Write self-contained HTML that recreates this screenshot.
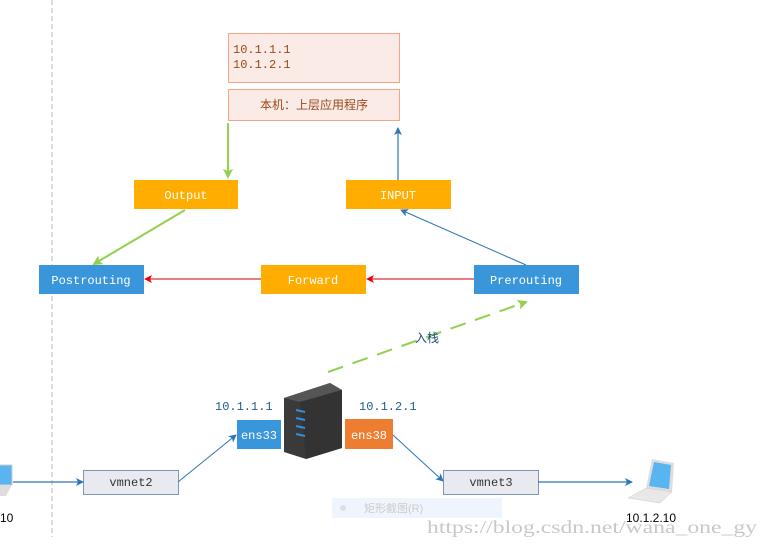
<!DOCTYPE html>
<html><head><meta charset="utf-8"><style>
html,body{margin:0;padding:0;background:#fff;width:768px;height:547px;overflow:hidden}
svg{display:block}
text{font-family:"Liberation Mono","Noto Sans CJK SC",monospace;font-size:12px}
</style></head><body>
<svg width="768" height="547" viewBox="0 0 768 547" xmlns="http://www.w3.org/2000/svg">
<defs>
<marker id="ab" markerWidth="8" markerHeight="8" refX="7" refY="4" orient="auto" markerUnits="userSpaceOnUse"><path d="M0,0 L8,4 L0,8 L2,4z" fill="#2e75b6"/></marker>
<marker id="ar" markerWidth="8" markerHeight="8" refX="7" refY="4" orient="auto" markerUnits="userSpaceOnUse"><path d="M0,0 L8,4 L0,8 L2,4z" fill="#e00"/></marker>
<marker id="ag" markerWidth="10" markerHeight="10" refX="8" refY="5" orient="auto" markerUnits="userSpaceOnUse"><path d="M0,0 L10,5 L0,10 L2,5z" fill="#92d050"/></marker>
</defs>
<line x1="52" y1="0" x2="52" y2="537" stroke="#bbb" stroke-dasharray="5,3"/>
<rect x="228.5" y="33.5" width="171" height="49" fill="#fbebe6" stroke="#f4a58a"/>
<text x="233" y="53" fill="#9c4a1a">10.1.1.1</text>
<text x="233" y="68" fill="#9c4a1a">10.1.2.1</text>
<rect x="228.5" y="89.5" width="171" height="31" fill="#fbebe6" stroke="#f4a58a"/>
<text x="314" y="109" fill="#9c4a1a" text-anchor="middle">本机：上层应用程序</text>
<line x1="228" y1="123" x2="228" y2="177" stroke="#92d050" stroke-width="2" marker-end="url(#ag)"/>
<line x1="398" y1="180" x2="398" y2="128" stroke="#2e75b6" stroke-width="1.2" marker-end="url(#ab)"/>
<rect x="134" y="180" width="104" height="29" fill="#ffad00"/>
<text x="186" y="199" fill="#fff" text-anchor="middle">Output</text>
<rect x="346" y="180" width="105" height="29" fill="#ffad00"/>
<text x="398" y="199" fill="#fff" text-anchor="middle">INPUT</text>
<line x1="185" y1="210" x2="94" y2="264" stroke="#92d050" stroke-width="2" marker-end="url(#ag)"/>
<line x1="526" y1="265" x2="401" y2="210" stroke="#2e75b6" stroke-width="1" marker-end="url(#ab)"/>
<rect x="39" y="265" width="105" height="29" fill="#3a96db"/>
<text x="91" y="284" fill="#fff" text-anchor="middle">Postrouting</text>
<rect x="261" y="265" width="105" height="29" fill="#ffad00"/>
<text x="313" y="284" fill="#fff" text-anchor="middle">Forward</text>
<rect x="474" y="265" width="105" height="29" fill="#3a96db"/>
<text x="526" y="284" fill="#fff" text-anchor="middle">Prerouting</text>
<line x1="474" y1="279" x2="367" y2="279" stroke="#c00" stroke-width="1" marker-end="url(#ar)"/>
<line x1="261" y1="279" x2="145" y2="279" stroke="#c00" stroke-width="1" marker-end="url(#ar)"/>
<line x1="328" y1="372" x2="526" y2="302" stroke="#92d050" stroke-width="2" stroke-dasharray="16,10" marker-end="url(#ag)"/>
<text x="427" y="342" fill="#1f4e79" text-anchor="middle">入栈</text>
<text x="215" y="410" fill="#1f5f8b">10.1.1.1</text>
<text x="359" y="410" fill="#1f5f8b">10.1.2.1</text>
<rect x="237" y="420" width="44" height="29" fill="#3a96db"/>
<text x="259" y="439" fill="#fff" text-anchor="middle">ens33</text>
<rect x="345" y="419" width="48" height="30" fill="#ed7d31"/>
<text x="369" y="439" fill="#fff" text-anchor="middle">ens38</text>
<polygon points="284,398 330,383 342,390 342,448 306,459 284,452" fill="#3a3a3a"/>
<polygon points="284,398 330,383 342,390 300,402" fill="#555"/>
<polygon points="300,402 342,390 342,448 306,459" fill="#333"/>
<g stroke="#2f8fe0" stroke-width="2"><line x1="296" y1="410" x2="305" y2="412"/><line x1="296" y1="418" x2="305" y2="420"/><line x1="296" y1="426" x2="305" y2="428"/><line x1="296" y1="434" x2="305" y2="436"/></g>
<rect x="83.5" y="470.5" width="95" height="24" fill="#e8eaf0" stroke="#8096b8"/>
<text x="131" y="486" fill="#333" text-anchor="middle">vmnet2</text>
<rect x="443.5" y="470.5" width="95" height="24" fill="#e8eaf0" stroke="#8096b8"/>
<text x="491" y="486" fill="#333" text-anchor="middle">vmnet3</text>
<line x1="13" y1="482" x2="83" y2="482" stroke="#2e75b6" stroke-width="1.2" marker-end="url(#ab)"/>
<line x1="178" y1="482" x2="236" y2="435" stroke="#2e75b6" stroke-width="1" marker-end="url(#ab)"/>
<line x1="393" y1="435" x2="443" y2="481" stroke="#2e75b6" stroke-width="1" marker-end="url(#ab)"/>
<line x1="538" y1="482" x2="632" y2="482" stroke="#2e75b6" stroke-width="1.2" marker-end="url(#ab)"/>
<rect x="-6" y="465" width="18" height="20" fill="#5ab4f0" stroke="#ccc"/>
<polygon points="-6,485 12,485 6,496 -6,496" fill="#ddd"/>
<text x="0" y="522" fill="#000" style="font-family:'Liberation Sans',sans-serif;font-size:12px">10</text>
<polygon points="652,459 674,463 672,492 646,488" fill="#ddd"/>
<polygon points="654,462 671,465 669,489 649,486" fill="#5ab4f0"/>
<polygon points="646,488 672,492 660,503 628,498" fill="#e8e8e8" stroke="#ccc" stroke-width="0.5"/>
<text x="651" y="522" fill="#000" text-anchor="middle" style="font-family:'Liberation Sans',sans-serif;font-size:12px">10.1.2.10</text>
<rect x="332" y="498" width="170" height="20" fill="#eef5fc"/>
<circle cx="343" cy="508" r="3" fill="#dde"/>
<text x="364" y="512" fill="#ccc" style="font-family:'Liberation Sans','Noto Sans CJK SC',sans-serif;font-size:11px">矩形截图(R)</text>
<text x="427" y="533" fill="#c8c8c8" textLength="330" lengthAdjust="spacingAndGlyphs" style="font-family:'Liberation Serif',serif;font-size:18px">https://blog.csdn.net/wana_one_gy</text>
</svg>
</body></html>
